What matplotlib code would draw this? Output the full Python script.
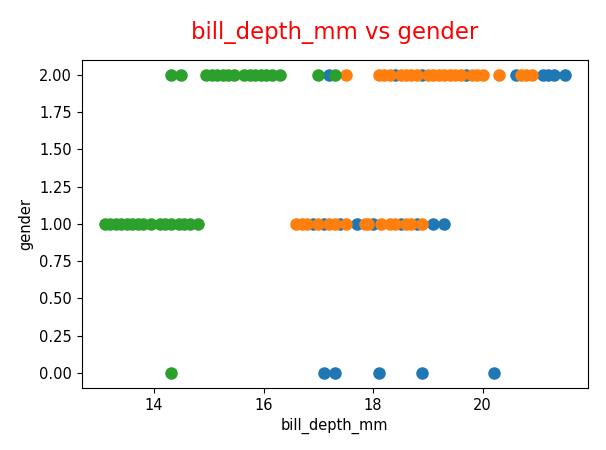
import matplotlib
matplotlib.use("Agg")
import matplotlib.pyplot as plt

# bill depth values per species and gender code
adelie_g0 = [17.1, 17.3, 18.1, 18.9, 20.2]
adelie_g1 = [16.9, 17.1, 17.4, 17.7, 18.0, 18.5, 18.8, 19.1, 19.3]
adelie_g2 = [17.2, 18.4, 18.9, 19.7, 20.6, 21.1, 21.2, 21.3, 21.5]

chinstrap_g1 = [16.6, 16.7, 16.8, 17.0, 17.2, 17.3, 17.5, 17.85, 17.9,
                18.15, 18.3, 18.4, 18.6, 18.7, 18.9]
chinstrap_g2 = [17.5, 18.1, 18.2, 18.3, 18.5, 18.6, 18.7, 18.8, 19.0, 19.1,
                19.2, 19.3, 19.4, 19.5, 19.6, 19.8, 19.9, 20.0, 20.3, 20.7,
                20.8, 20.9]

gentoo_g0 = [14.3]
gentoo_g1 = [13.1, 13.2, 13.3, 13.4, 13.5, 13.6, 13.7, 13.8, 13.95, 14.1,
             14.2, 14.3, 14.45, 14.55, 14.65, 14.8]
gentoo_g2 = [14.3, 14.5, 14.95, 15.05, 15.15, 15.25, 15.35, 15.45, 15.65,
             15.75, 15.85, 15.95, 16.05, 16.15, 16.3, 17.0, 17.3]

species = {
    "Adelie": {0: adelie_g0, 1: adelie_g1, 2: adelie_g2},
    "Chinstrap": {0: [], 1: chinstrap_g1, 2: chinstrap_g2},
    "Gentoo": {0: gentoo_g0, 1: gentoo_g1, 2: gentoo_g2},
}
colors = ["tab:blue", "tab:orange", "tab:green"]

plt.rcParams["font.size"] = 10.5
fig = plt.figure(figsize=(6.06, 4.5), dpi=100)
ax = fig.add_axes([0.135, 0.138, 0.835, 0.729])

for (name, groups), col in zip(species.items(), colors):
    xs, ys = [], []
    for g, vals in groups.items():
        xs += vals
        ys += [g] * len(vals)
    ax.scatter(xs, ys, s=64, color=col)

ax.set_title("bill_depth_mm vs gender", color="red", fontsize=16.4, pad=15)
ax.set_xlabel("bill_depth_mm")
ax.set_ylabel("gender")
fig.savefig("out.png", dpi=100)
